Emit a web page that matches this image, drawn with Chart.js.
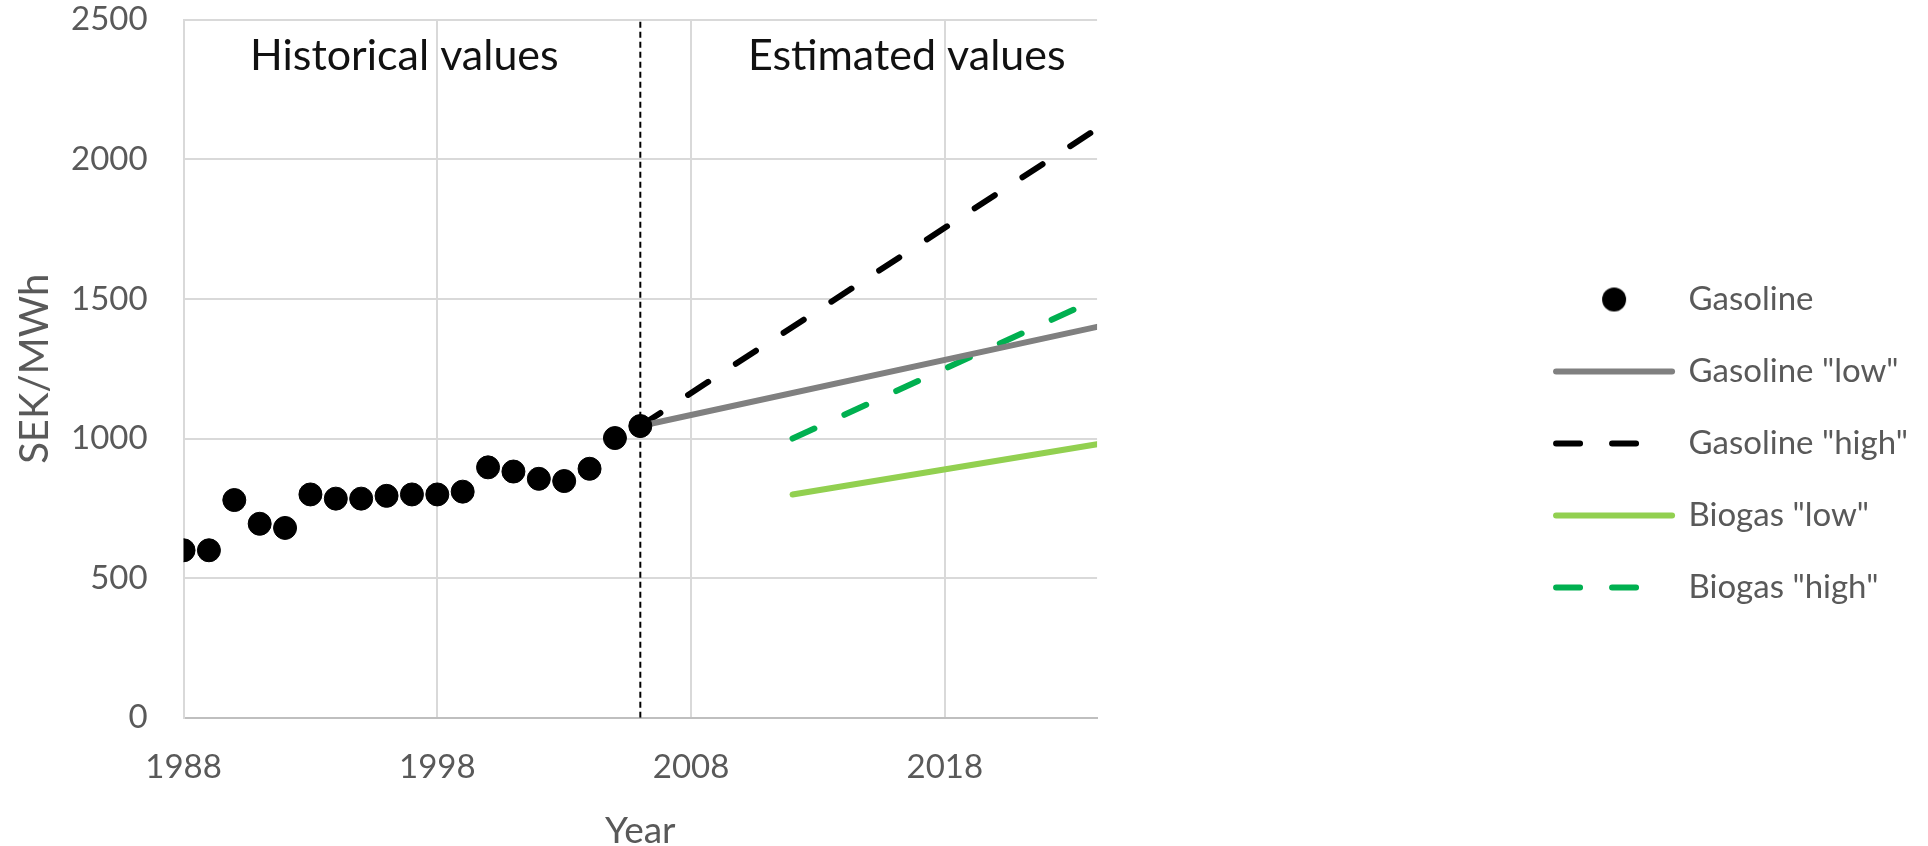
<!DOCTYPE html>
<html>
<head>
<meta charset="utf-8">
<script src="https://cdn.jsdelivr.net/npm/chart.js@4.4.1/dist/chart.umd.min.js"></script>
<style>
  html, body { margin:0; padding:0; background:#fff; }
  #wrap { width:1928px; height:846px; position:relative; }
</style>
</head>
<body>
<div id="wrap"><canvas id="priceC"></canvas></div>
<script>
// historical gasoline prices (SEK/MWh)
const histYears = [1988,1989,1990,1991,1992,1993,1994,1995,1996,1997,1998,1999,2000,2001,2002,2003,2004,2005,2006];
const gasolinePrice = [600,600,780,695,680,800,785,785,795,800,800,810,897,882,856,848,892,1002,1045];

// scenario lines
const gasYears = [2006, 2024];
const gasLow = [1045, 1400];
const gasHigh = [1045, 2110];
const bioYears = [2012, 2024];
const bioLow = [800, 980];
const bioHigh = [1000, 1500];

// divider between historical and estimated
const splitYears = [2006, 2006];
const splitLevels = [0, 2500];

const xTicks = [1988, 1998, 2008, 2018];
const notes = ['Historical values', 'Estimated values'];
const noteYears = [1996.7, 2016.5];
const noteLevel = 2370;

const pts = (xs, ys) => xs.map((x, i) => ({ x, y: ys[i] }));
const FONT = 'Lato, "Open Sans", sans-serif';
const GREY = '#595959';

// round marker for the legend entry of the point series
const dotGlyph = document.createElement('canvas');
dotGlyph.width = 26; dotGlyph.height = 26;
(c => { c.fillStyle = '#000'; c.beginPath(); c.arc(13, 13, 12, 0, Math.PI * 2); c.fill(); })(dotGlyph.getContext('2d'));

const notesPlugin = {
  id: 'notes',
  afterDatasetsDraw(chart) {
    const { ctx, scales: { x, y } } = chart;
    ctx.save();
    ctx.font = '43px ' + FONT;
    ctx.fillStyle = '#111';
    ctx.textAlign = 'center';
    ctx.textBaseline = 'middle';
    notes.forEach((t, i) => ctx.fillText(t, x.getPixelForValue(noteYears[i]), y.getPixelForValue(noteLevel)));
    ctx.restore();
  }
};

new Chart(document.getElementById('priceC'), {
  type: 'scatter',
  data: {
    datasets: [
      { label: 'Gasoline', data: pts(histYears, gasolinePrice), showLine: false,
        pointRadius: 11.5, pointHoverRadius: 11.5, backgroundColor: '#000', borderColor: '#000', borderWidth: 1 },
      { label: 'Gasoline "low"', data: pts(gasYears, gasLow), showLine: true, pointRadius: 0,
        borderColor: '#808080', backgroundColor: '#808080', borderWidth: 6, borderCapStyle: 'round' },
      { label: 'Gasoline "high"', data: pts(gasYears, gasHigh), showLine: true, pointRadius: 0,
        borderColor: '#000', backgroundColor: '#000', borderWidth: 6, borderDash: [24, 33], borderCapStyle: 'round' },
      { label: 'Biogas "low"', data: pts(bioYears, bioLow), showLine: true, pointRadius: 0,
        borderColor: '#92d050', backgroundColor: '#92d050', borderWidth: 6, borderCapStyle: 'round' },
      { label: 'Biogas "high"', data: pts(bioYears, bioHigh), showLine: true, pointRadius: 0,
        borderColor: '#00b050', backgroundColor: '#00b050', borderWidth: 6, borderDash: [24, 33], borderCapStyle: 'round' },
      { label: 'split', data: pts(splitYears, splitLevels), showLine: true, pointRadius: 0,
        borderColor: '#000', borderWidth: 2, borderDash: [6, 4] }
    ]
  },
  options: {
    responsive: true, maintainAspectRatio: false, animation: false,
    layout: { padding: { top: 8, right: 10, bottom: 0, left: 0 } },
    plugins: {
      tooltip: { enabled: false },
      legend: {
        position: 'right', maxWidth: 700,
        title: { display: true, text: '', padding: 0, font: { size: 33, lineHeight: 1 } },
        labels: {
          color: GREY, font: { family: FONT, size: 33 }, usePointStyle: true,
          pointStyleWidth: 116, boxHeight: 17, padding: 39,
          filter: it => it.text !== 'split',
          generateLabels: chart => {
            const items = Chart.defaults.plugins.legend.labels.generateLabels(chart);
            items.forEach(it => {
              const ds = chart.data.datasets[it.datasetIndex];
              if (ds.showLine) {
                it.pointStyle = 'line';
                // two dashes in the sample, as in the original key
                it.lineDash = ds.borderDash ? [24, 32, 24, 80] : [];
                it.lineWidth = ds.borderWidth;
                it.strokeStyle = ds.borderColor;
                it.lineCap = 'round';
              } else {
                it.pointStyle = dotGlyph;
              }
            });
            return items;
          }
        }
      }
    },
    scales: {
      x: {
        type: 'linear', min: 1988, max: 2024,
        afterBuildTicks: s => { s.ticks = xTicks.map(v => ({ value: v })); },
        grid: { color: '#d9d9d9', lineWidth: 2, drawTicks: true, tickLength: 30, tickColor: 'rgba(0,0,0,0)' },
        border: { color: '#bfbfbf', width: 2 },
        ticks: { color: GREY, font: { family: FONT, size: 33 }, padding: 0, maxRotation: 0, callback: v => String(v) },
        title: { display: true, text: 'Year', color: GREY, font: { family: FONT, size: 37, lineHeight: 0.8 }, padding: { top: 29, bottom: 0 } }
      },
      y: {
        min: 0, max: 2500,
        grid: { color: '#d9d9d9', lineWidth: 2, drawTicks: true, tickLength: 36, tickColor: 'rgba(0,0,0,0)' },
        border: { color: '#d9d9d9', width: 2 },
        ticks: { stepSize: 500, color: GREY, font: { family: FONT, size: 33 }, padding: 0, callback: v => String(v) },
        title: { display: true, text: 'SEK/MWh', color: GREY, font: { family: FONT, size: 40, lineHeight: 1 }, padding: { top: 15, bottom: 16 } }
      },
      y2: {
        position: 'right', min: 0, max: 1,
        grid: { display: false }, border: { display: false }, ticks: { display: false },
        afterFit: s => { s.width = 420; }
      }
    }
  },
  plugins: [notesPlugin]
});
</script>
</body>
</html>
